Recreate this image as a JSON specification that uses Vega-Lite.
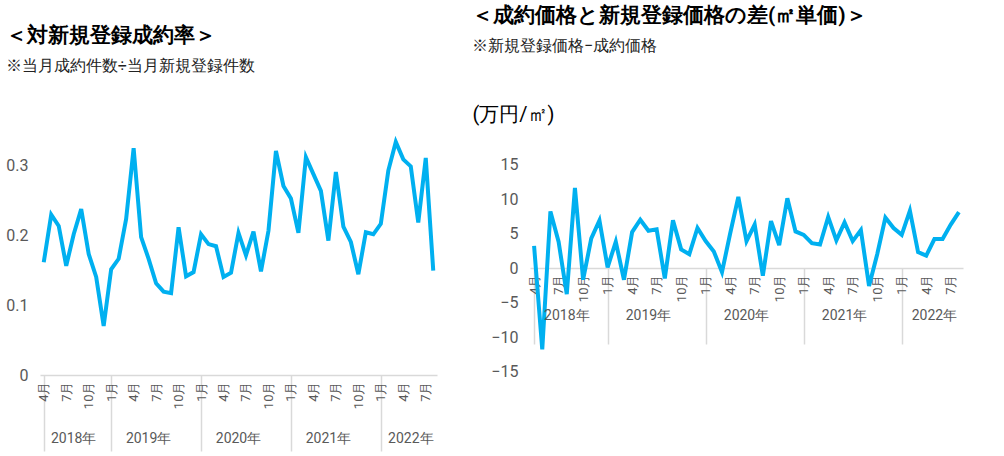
{
"$schema":"https://vega.github.io/schema/vega-lite/v6.json",
"config":{"font":"Roboto","view":{"stroke":null},"concat":{"spacing":30},
 "title":{"anchor":"start","frame":"bounds","fontSize":21,"fontWeight":"bold","color":"#000","subtitleFontSize":16,"subtitleColor":"#222","subtitlePadding":12}},
"datasets":{
"d":[
{"m":"2018-04","rate":0.161,"diff":3.2},{"m":"2018-05","rate":0.229,"diff":-11.8},{"m":"2018-06","rate":0.213,"diff":8.2},{"m":"2018-07","rate":0.156,"diff":3.8},{"m":"2018-08","rate":0.201,"diff":-3.8},{"m":"2018-09","rate":0.237,"diff":11.6},{"m":"2018-10","rate":0.173,"diff":-1.7},{"m":"2018-11","rate":0.140,"diff":4.3},{"m":"2018-12","rate":0.070,"diff":6.9},
{"m":"2019-01","rate":0.151,"diff":0.1},{"m":"2019-02","rate":0.166,"diff":3.8},{"m":"2019-03","rate":0.223,"diff":-1.7},{"m":"2019-04","rate":0.324,"diff":5.2},{"m":"2019-05","rate":0.197,"diff":7.0},{"m":"2019-06","rate":0.166,"diff":5.4},{"m":"2019-07","rate":0.131,"diff":5.6},{"m":"2019-08","rate":0.119,"diff":-1.5},{"m":"2019-09","rate":0.117,"diff":6.9},{"m":"2019-10","rate":0.211,"diff":2.7},{"m":"2019-11","rate":0.141,"diff":2.0},{"m":"2019-12","rate":0.147,"diff":5.8},
{"m":"2020-01","rate":0.201,"diff":3.9},{"m":"2020-02","rate":0.187,"diff":2.4},{"m":"2020-03","rate":0.184,"diff":-0.6},{"m":"2020-04","rate":0.140,"diff":5.0},{"m":"2020-05","rate":0.146,"diff":10.3},{"m":"2020-06","rate":0.203,"diff":3.9},{"m":"2020-07","rate":0.171,"diff":6.3},{"m":"2020-08","rate":0.205,"diff":-1.1},{"m":"2020-09","rate":0.148,"diff":6.8},{"m":"2020-10","rate":0.206,"diff":3.3},{"m":"2020-11","rate":0.320,"diff":10.1},{"m":"2020-12","rate":0.270,"diff":5.3},
{"m":"2021-01","rate":0.252,"diff":4.8},{"m":"2021-02","rate":0.203,"diff":3.6},{"m":"2021-03","rate":0.311,"diff":3.4},{"m":"2021-04","rate":0.287,"diff":7.4},{"m":"2021-05","rate":0.263,"diff":4.0},{"m":"2021-06","rate":0.192,"diff":6.6},{"m":"2021-07","rate":0.290,"diff":3.9},{"m":"2021-08","rate":0.212,"diff":5.5},{"m":"2021-09","rate":0.190,"diff":-2.6},{"m":"2021-10","rate":0.144,"diff":2.0},{"m":"2021-11","rate":0.204,"diff":7.3},{"m":"2021-12","rate":0.201,"diff":5.8},
{"m":"2022-01","rate":0.216,"diff":4.8},{"m":"2022-02","rate":0.292,"diff":8.3},{"m":"2022-03","rate":0.333,"diff":2.3},{"m":"2022-04","rate":0.308,"diff":1.8},{"m":"2022-05","rate":0.298,"diff":4.2},{"m":"2022-06","rate":0.218,"diff":4.2},{"m":"2022-07","rate":0.310,"diff":6.3},{"m":"2022-08","rate":0.149,"diff":8.1}
],
"years":[{"m":"2018-08","year":"2018年"},{"m":"2019-06","year":"2019年"},{"m":"2020-06","year":"2020年"},{"m":"2021-06","year":"2021年"},{"m":"2022-05","year":"2022年"}]
},
"hconcat":[
{
"title":{"text":"＜対新規登録成約率＞","subtitle":"※当月成約件数÷当月新規登録件数","offset":56},
"width":397,"height":245,
"layer":[
{"data":{"name":"d"},"mark":{"type":"line","color":"#00B0F0","strokeWidth":4},
 "encoding":{
  "x":{"field":"m","type":"ordinal","title":null,"scale":{"paddingInner":0,"paddingOuter":0},
   "axis":{"bandPosition":0,"labelAngle":270,"labelAlign":"right","labelBaseline":"middle","labelPadding":-70,"labelFontSize":13,"labelColor":"#595959","labelBound":false,"labelOverlap":false,
    "labelExpr":"indexof(['01','04','07','10'], slice(datum.value,5)) >= 0 ? toNumber(slice(datum.value,5)) + '月' : ''",
    "domainColor":"#d9d9d9","domainWidth":1.5,"tickColor":"#d9d9d9","tickWidth":1.5,"tickSize":76,
    "tickOpacity":{"condition":{"test":"slice(datum.value,5)=='01' || datum.value=='2018-04'","value":1},"value":0}}},
  "y":{"field":"rate","type":"quantitative","title":null,"scale":{"domain":[0,0.35]},
   "axis":{"values":[0,0.05,0.1,0.15,0.2,0.25,0.3,0.35],"labelOverlap":false,"grid":false,"domain":false,"ticks":false,"labelFontSize":16,"labelColor":"#595959","labelPadding":12,"labelExpr":"format(datum.value,'.2~f')"}}}},
{"data":{"name":"years"},"mark":{"type":"text","fontSize":14,"color":"#595959"},
 "encoding":{"x":{"field":"m","type":"ordinal"},"y":{"datum":-0.092},"text":{"field":"year"}}}
]},
{
"title":{"text":"＜成約価格と新規登録価格の差(㎡単価)＞","subtitle":"※新規登録価格−成約価格","offset":50},
"width":433,"height":276,
"layer":[
{"data":{"name":"d"},"mark":{"type":"line","color":"#00B0F0","strokeWidth":4},
 "encoding":{
  "x":{"field":"m","type":"ordinal","title":null,"scale":{"paddingInner":0,"paddingOuter":0},
   "axis":{"offset":-138,"bandPosition":0,"labelAngle":270,"labelAlign":"right","labelBaseline":"middle","labelPadding":-70,"labelFontSize":13,"labelColor":"#595959","labelBound":false,"labelOverlap":false,
    "labelExpr":"indexof(['01','04','07','10'], slice(datum.value,5)) >= 0 ? toNumber(slice(datum.value,5)) + '月' : ''",
    "domainColor":"#d9d9d9","domainWidth":1.5,"tickColor":"#d9d9d9","tickWidth":1.5,"tickSize":76,
    "tickOpacity":{"condition":{"test":"slice(datum.value,5)=='01' || datum.value=='2018-04'","value":1},"value":0}}},
  "y":{"field":"diff","type":"quantitative","scale":{"domain":[-15,15]},"title":"(万円/㎡)",
   "axis":{"values":[-15,-10,-5,0,5,10,15],"labelOverlap":false,"grid":false,"domain":false,"ticks":false,"labelFontSize":16,"labelColor":"#595959","labelPadding":12,
    "titleAngle":0,"titleAlign":"left","titleBaseline":"bottom","titleX":-58,"titleY":-6,"titleFontSize":20,"titleFontWeight":"normal","titleColor":"#000"}}}},
{"data":{"name":"years"},"mark":{"type":"text","fontSize":14,"color":"#595959"},
 "encoding":{"x":{"field":"m","type":"ordinal"},"y":{"datum":-6.96},"text":{"field":"year"}}}
]}
]}
